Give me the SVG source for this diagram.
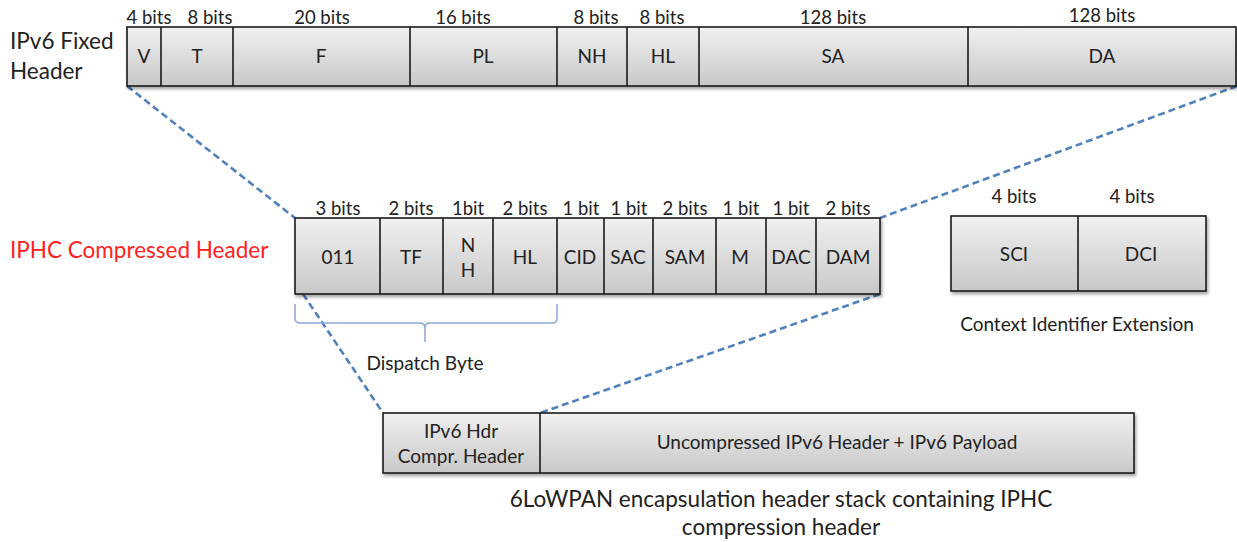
<svg xmlns="http://www.w3.org/2000/svg" width="1237" height="542" viewBox="0 0 1237 542">
<defs>
<linearGradient id="g" x1="0" y1="0" x2="0" y2="1">
<stop offset="0" stop-color="#f0f0f0"/>
<stop offset="1" stop-color="#c8c8c8"/>
</linearGradient>
<filter id="sh" x="-5%" y="-10%" width="110%" height="130%">
<feDropShadow dx="1.5" dy="2.5" stdDeviation="1.5" flood-color="#000" flood-opacity="0.35"/>
</filter>
</defs>
<style>
.box{fill:url(#g);stroke:#1a1a1a;stroke-width:1.6;filter:url(#sh)}
.div{stroke:#1a1a1a;stroke-width:1.6}
text{font-family:Lato,"Open Sans","Liberation Sans",sans-serif;fill:#222}
.f{font-size:19px;text-anchor:middle}
.b{font-size:18.5px;text-anchor:middle}
.big{font-size:22.5px}
.dash{stroke:#4f81bd;stroke-width:2.6;stroke-dasharray:7 4;fill:none}
</style>
<g id="connectors">
<line class="dash" x1="127" y1="86" x2="295" y2="218"/>
<line class="dash" x1="1237" y1="86" x2="880" y2="218"/>
<line class="dash" x1="303" y1="294" x2="383" y2="413"/>
<line class="dash" x1="880" y1="294" x2="540" y2="413"/>
</g>
<g id="fixed-header">
<text class="big" x="10" y="49">IPv6 Fixed</text>
<text class="big" x="10" y="79">Header</text>
<rect class="box" x="127" y="27" width="1109" height="59"/>
<line class="div" x1="161" y1="27" x2="161" y2="86"/>
<line class="div" x1="233" y1="27" x2="233" y2="86"/>
<line class="div" x1="410" y1="27" x2="410" y2="86"/>
<line class="div" x1="557" y1="27" x2="557" y2="86"/>
<line class="div" x1="627" y1="27" x2="627" y2="86"/>
<line class="div" x1="699" y1="27" x2="699" y2="86"/>
<line class="div" x1="968" y1="27" x2="968" y2="86"/>
<text class="b" x="149" y="24">4 bits</text>
<text class="b" x="210" y="24">8 bits</text>
<text class="b" x="322" y="24">20 bits</text>
<text class="b" x="463" y="24">16 bits</text>
<text class="b" x="596" y="24">8 bits</text>
<text class="b" x="662" y="24">8 bits</text>
<text class="b" x="833" y="24">128 bits</text>
<text class="b" x="1102" y="22">128 bits</text>
<text class="f" x="144" y="63">V</text>
<text class="f" x="197" y="63">T</text>
<text class="f" x="321" y="63">F</text>
<text class="f" x="483" y="63">PL</text>
<text class="f" x="592" y="63">NH</text>
<text class="f" x="663" y="63">HL</text>
<text class="f" x="833" y="63">SA</text>
<text class="f" x="1102" y="63">DA</text>
</g>
<g id="iphc-header">
<text class="big" x="10" y="258" style="fill:#ff2020">IPHC Compressed Header</text>
<rect class="box" x="295" y="218" width="585" height="76"/>
<line class="div" x1="380" y1="218" x2="380" y2="294"/>
<line class="div" x1="443" y1="218" x2="443" y2="294"/>
<line class="div" x1="493" y1="218" x2="493" y2="294"/>
<line class="div" x1="557" y1="218" x2="557" y2="294"/>
<line class="div" x1="604" y1="218" x2="604" y2="294"/>
<line class="div" x1="653" y1="218" x2="653" y2="294"/>
<line class="div" x1="716" y1="218" x2="716" y2="294"/>
<line class="div" x1="766" y1="218" x2="766" y2="294"/>
<line class="div" x1="816" y1="218" x2="816" y2="294"/>
<text class="b" x="338" y="215">3 bits</text>
<text class="b" x="411" y="215">2 bits</text>
<text class="b" x="468" y="215">1bit</text>
<text class="b" x="525" y="215">2 bits</text>
<text class="b" x="581" y="215">1 bit</text>
<text class="b" x="629" y="215">1 bit</text>
<text class="b" x="685" y="215">2 bits</text>
<text class="b" x="741" y="215">1 bit</text>
<text class="b" x="791" y="215">1 bit</text>
<text class="b" x="848" y="215">2 bits</text>
<text class="f" x="338" y="264">011</text>
<text class="f" x="411" y="264">TF</text>
<text class="f" x="468" y="252">N</text>
<text class="f" x="468" y="277">H</text>
<text class="f" x="525" y="264">HL</text>
<text class="f" x="580" y="264">CID</text>
<text class="f" x="628" y="264">SAC</text>
<text class="f" x="685" y="264">SAM</text>
<text class="f" x="740" y="264">M</text>
<text class="f" x="791" y="264">DAC</text>
<text class="f" x="848" y="264">DAM</text>
</g>
<g id="dispatch-byte">
<path d="M295,304 V318 Q295,323 300,323 H420 Q425,323 425,328 V342 M425,328 Q425,323 430,323 H552 Q557,323 557,318 V304" fill="none" stroke="#8eaadb" stroke-width="1.6"/>
<text class="f" x="425" y="370">Dispatch Byte</text>
</g>
<g id="context-ext">
<rect class="box" x="951" y="216" width="255" height="75"/>
<line class="div" x1="1078" y1="216" x2="1078" y2="291"/>
<text class="b" x="1014" y="203">4 bits</text>
<text class="b" x="1132" y="203">4 bits</text>
<text class="f" x="1014" y="261">SCI</text>
<text class="f" x="1141" y="261">DCI</text>
<text class="f" x="1077" y="331">Context Identifier Extension</text>
</g>
<g id="encapsulation">
<rect class="box" x="383" y="413" width="751" height="60"/>
<line class="div" x1="540" y1="413" x2="540" y2="473"/>
<text class="f" x="461" y="438">IPv6 Hdr</text>
<text class="f" x="461" y="463">Compr.  Header</text>
<text class="f" x="837" y="449">Uncompressed IPv6 Header + IPv6 Payload</text>
<text class="big" x="781" y="507" text-anchor="middle">6LoWPAN encapsulation header stack containing IPHC</text>
<text class="big" x="781" y="535" text-anchor="middle">compression header</text>
</g>
</svg>
